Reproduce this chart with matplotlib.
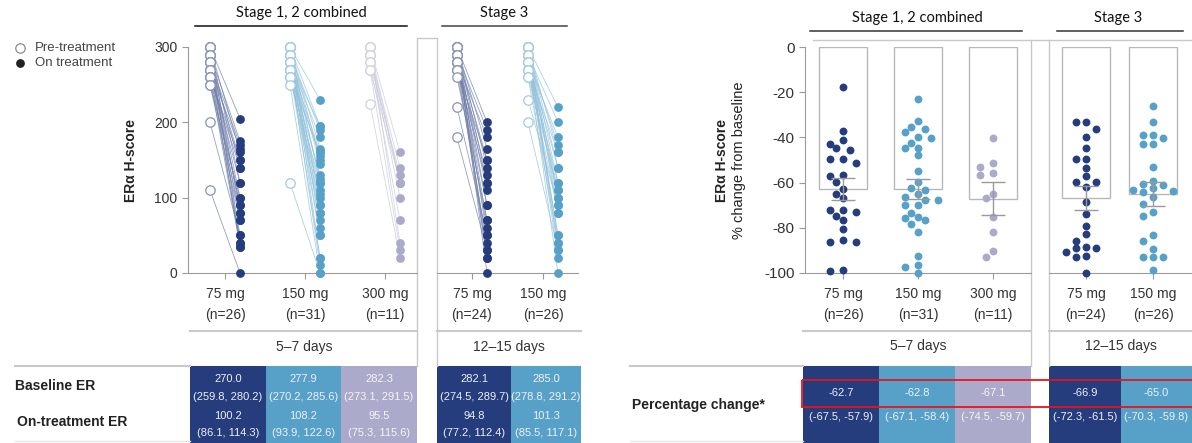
import numpy as np
import matplotlib
matplotlib.use("Agg")
import matplotlib.pyplot as plt
from matplotlib.patches import Rectangle
from matplotlib.colors import to_rgb

plt.rcParams['font.family'] = ['Liberation Sans', 'DejaVu Sans']
plt.rcParams['axes.unicode_minus'] = False

# ---------------- data ----------------
doses_s12 = ["75 mg", "150 mg", "300 mg"]
doses_s3 = ["75 mg", "150 mg"]
n_s12 = ["(n=26)", "(n=31)", "(n=11)"]
n_s3 = ["(n=24)", "(n=26)"]
period_s12 = "5–7 days"
period_s3 = "12–15 days"

# ER H-score, paired (pre, on) per patient
pre_s12_75 = [300, 300, 300, 300, 300, 290, 290, 290, 290, 280, 280, 280, 280, 280,
              270, 270, 270, 270, 260, 260, 260, 260, 250, 250, 200, 110]
on_s12_75 = [205, 120, 80, 160, 40, 175, 100, 50, 140, 170, 90, 35, 150, 70,
             165, 120, 40, 90, 150, 80, 35, 140, 100, 70, 50, 0]
pre_s12_150 = [300, 300, 300, 300, 300, 300, 300, 300, 290, 290, 290, 290, 290, 290,
               280, 280, 280, 280, 280, 280, 270, 270, 270, 270, 270,
               260, 260, 260, 260, 250, 120]
on_s12_150 = [230, 150, 90, 195, 60, 120, 20, 165, 190, 100, 50, 145, 80, 125,
              180, 110, 70, 160, 10, 195, 155, 90, 50, 130, 20,
              160, 105, 80, 120, 0, 0]
pre_s12_300 = [300, 300, 300, 290, 290, 290, 280, 280, 270, 270, 225]
on_s12_300 = [160, 120, 40, 140, 100, 120, 130, 70, 30, 120, 20]
pre_s3_75 = [300, 300, 300, 300, 300, 300, 300, 300, 290, 290, 290, 290, 290,
             280, 280, 280, 280, 280, 270, 270, 270, 260, 220, 180]
on_s3_75 = [200, 120, 50, 165, 20, 90, 140, 0, 190, 70, 110, 30, 150,
            180, 60, 130, 20, 90, 150, 40, 120, 70, 50, 30]
pre_s3_150 = [300, 300, 300, 300, 300, 300, 300, 300, 290, 290, 290, 290, 290, 290,
              280, 280, 280, 280, 280, 270, 270, 270, 260, 260, 230, 200]
on_s3_150 = [220, 100, 40, 160, 80, 140, 30, 120, 200, 90, 50, 170, 110, 20,
             180, 0, 140, 100, 50, 160, 80, 120, 110, 40, 90, 30]

# % change from baseline per patient
pct_s12_75 = [-17.8, -37.2, -41.3, -42.8, -44.5, -45.6, -49.7, -49.7, -51.2, -56.6, -57.1,
              -59.7, -62.7, -64.9, -66.8, -72.0, -72.0, -72.9, -74.9, -76.5, -80.7, -85.3,
              -86.1, -86.1, -98.8, -99.1]
pct_s12_150 = [-23.0, -32.6, -35.4, -36.3, -37.6, -39.8, -40.4, -42.6, -44.5, -44.5, -47.9,
               -55.0, -59.7, -62.2, -63.4, -65.0, -66.5, -67.7, -67.7, -70.0, -70.0, -73.3,
               -75.1, -75.5, -76.7, -78.4, -82.0, -92.5, -96.5, -97.5, -99.9]
pct_s12_300 = [-40.4, -51.5, -53.0, -55.6, -56.6, -65.0, -67.0, -75.1, -82.0, -90.1, -92.8]
pct_s3_75 = [-33.0, -33.0, -36.3, -39.7, -44.8, -49.7, -49.7, -53.4, -57.1, -59.6, -59.6,
             -61.8, -68.7, -74.0, -79.0, -82.7, -85.7, -88.6, -89.1, -89.1, -90.8, -92.6,
             -93.0, -99.9]
pct_s3_150 = [-26.1, -33.0, -38.9, -38.9, -40.4, -43.0, -43.0, -53.2, -59.1, -60.6, -61.0,
              -62.5, -63.3, -63.7, -64.3, -66.5, -69.5, -72.9, -74.8, -83.2, -85.7, -89.4,
              -92.8, -92.8, -92.8, -98.7]

# table values (order: S12 75, 150, 300, S3 75, 150)
baseline_mean = [270.0, 277.9, 282.3, 282.1, 285.0]
baseline_lo = [259.8, 270.2, 273.1, 274.5, 278.8]
baseline_hi = [280.2, 285.6, 291.5, 289.7, 291.2]
ontreat_mean = [100.2, 108.2, 95.5, 94.8, 101.3]
ontreat_lo = [86.1, 93.9, 75.3, 77.2, 85.5]
ontreat_hi = [114.3, 122.6, 115.6, 112.4, 117.1]
pct_mean = [-62.7, -62.8, -67.1, -66.9, -65.0]
pct_lo = [-67.5, -67.1, -74.5, -72.3, -70.3]
pct_hi = [-57.9, -58.4, -59.7, -61.5, -59.8]

# ---------------- style ----------------
C75, C150, C300 = "#253C7D", "#57A1C9", "#ABAACB"
cols_s12 = [C75, C150, C300]
cols_s3 = [C75, C150]
TXT = "#333333"
GRID = "#c9c9c9"
SPINE = "#9a9a9a"


def mix(c, f):
    r = np.array(to_rgb(c))
    return tuple(r * (1 - f) + f)


W, H = 1192, 443
fig = plt.figure(figsize=(W / 100, H / 100), dpi=100)


def px_axes(x0, y0, x1, y1):
    a = fig.add_axes([x0 / W, 1 - y1 / H, (x1 - x0) / W, (y1 - y0) / H])
    a.set_facecolor("none")
    return a


ov = px_axes(0, 0, W, H)
ov.set_xlim(0, W)
ov.set_ylim(H, 0)
ov.axis("off")


def style_axes(ax, left=True):
    for s in ["top", "right"]:
        ax.spines[s].set_visible(False)
    ax.spines["bottom"].set_color(SPINE)
    ax.spines["left"].set_color(SPINE)
    if not left:
        ax.spines["left"].set_visible(False)
        ax.tick_params(axis="y", left=False, labelleft=False)
    ax.tick_params(colors=SPINE, labelcolor=TXT, labelsize=10, length=4, width=0.8)
    ax.tick_params(axis="x", pad=6)


# ---------- left: paired plots ----------
def paired(ax, pres, ons, cols, unit_px, off_px=15):
    for i, (pre, on, c) in enumerate(zip(pres, ons, cols)):
        xp = i - off_px / unit_px
        xo = i + off_px / unit_px
        for a, b in zip(pre, on):
            ax.plot([xp, xo], [a, b], color=mix(c, 0.35), lw=0.6, alpha=0.75, zorder=1)
        ax.scatter(np.full(len(pre), xp), pre, s=46, facecolor="white",
                   edgecolor=mix(c, 0.45), lw=0.9, zorder=3, clip_on=False)
        ax.scatter(np.full(len(on), xo), on, s=40, color=c, lw=0, zorder=4, clip_on=False)


ax1 = px_axes(188, 47, 417, 273)
paired(ax1, [pre_s12_75, pre_s12_150, pre_s12_300], [on_s12_75, on_s12_150, on_s12_300],
       cols_s12, 80)
ax1.set_xlim((188 - 225) / 80, (417 - 225) / 80)
ax1.set_ylim(0, 300)
ax1.set_yticks([0, 100, 200, 300])
ax1.set_xticks(range(3))
ax1.set_xticklabels(doses_s12)
style_axes(ax1)
ax1.set_ylabel("ERα H-score", fontsize=10, fontweight="bold", color="#222", labelpad=12)

ax2 = px_axes(437, 47, 578, 273)
paired(ax2, [pre_s3_75, pre_s3_150], [on_s3_75, on_s3_150], cols_s3, 71)
ax2.set_xlim((437 - 472) / 71, (578 - 472) / 71)
ax2.set_ylim(0, 300)
ax2.set_xticks(range(2))
ax2.set_xticklabels(doses_s3)
style_axes(ax2, left=False)


# ---------- right: bar + swarm ----------
def swarm_offsets(vals, ypx, step, kmax, dmin=7.6):
    vals = np.asarray(vals, float)
    order = np.argsort(-vals, kind="stable")
    placed = []
    offs = np.zeros(len(vals))
    cands = [0.0] + [s * k * step for k in range(1, kmax + 1) for s in (-1, 1)]
    for i in order:
        y = vals[i] * ypx
        best, bestd = 0.0, -1
        for c in cands:
            d = min([np.hypot(c - px, y - py) for px, py in placed] + [1e9])
            if d >= dmin:
                best = c
                break
            if d > bestd:
                best, bestd = c, d
        offs[i] = best
        placed.append((best, y))
    return offs


def bars_swarm(ax, groups, means, los, his, cols, unit_px, step, kmax, ypx=2.26):
    bw = 48 / unit_px
    x = np.arange(len(groups))
    ax.bar(x, means, width=bw, facecolor="white", edgecolor="#b8b8b8", lw=1.0, zorder=1)
    for i, (g, c) in enumerate(zip(groups, cols)):
        off = swarm_offsets(g, ypx, step, kmax) / unit_px
        ax.scatter(i + off, g, s=32, color=c, lw=0, zorder=3, clip_on=False)
    m = np.array(means)
    ax.errorbar(x, m, yerr=[m - np.array(los), np.array(his) - m], fmt="none",
                ecolor="#9a9a9a", elinewidth=1.0, capsize=8.3, capthick=1.0, zorder=4)


ax3 = px_axes(805, 47, 1031, 273)
bars_swarm(ax3, [pct_s12_75, pct_s12_150, pct_s12_300], pct_mean[:3], pct_lo[:3], pct_hi[:3],
           cols_s12, 75, step=6.7, kmax=3)
ax3.set_xlim((805 - 843) / 75, (1031 - 843) / 75)
ax3.set_ylim(-100, 0)
ax3.set_yticks([0, -20, -40, -60, -80, -100])
ax3.set_xticks(range(3))
ax3.set_xticklabels(doses_s12)
style_axes(ax3)
ax3.tick_params(axis="y", labelsize=11)

ax4 = px_axes(1049, 47, 1192, 273)
bars_swarm(ax4, [pct_s3_75, pct_s3_150], pct_mean[3:], pct_lo[3:], pct_hi[3:], cols_s3, 67,
           step=10, kmax=2)
ax4.set_xlim((1049 - 1086) / 67, (1192 - 1086) / 67)
ax4.set_ylim(-100, 0)
ax4.set_xticks(range(2))
ax4.set_xticklabels(doses_s3)
style_axes(ax4, left=False)

ov.text(722, 160, "ERα H-score", rotation=90, ha="center", va="center",
        fontsize=10, fontweight="bold", color="#222")
ov.text(739, 160, "% change from baseline", rotation=90, ha="center", va="center",
        fontsize=10.5, color="#222")

# n labels
for ax, labs in [(ax1, n_s12), (ax2, n_s3), (ax3, n_s12), (ax4, n_s3)]:
    for i, t in enumerate(labs):
        ax.text(i, -0.186, t, transform=ax.get_xaxis_transform(), ha="center",
                va="center", fontsize=10, color=TXT)

# ---------- decorations / headers ----------
HF = ["Lato", "DejaVu Sans"]
ov.text(301, 13, "Stage 1, 2 combined", ha="center", va="center", fontsize=10.5,
        family=HF, color="#111")
ov.plot([195, 407], [26, 26], color="#111", lw=1.1)
ov.text(504, 13, "Stage 3", ha="center", va="center", fontsize=10.5, family=HF, color="#111")
ov.plot([442, 567], [26, 26], color="#444", lw=1.1)
ov.text(917, 18, "Stage 1, 2 combined", ha="center", va="center", fontsize=10.5,
        family=HF, color="#111")
ov.plot([810, 1022], [31, 31], color="#333", lw=1.1)
ov.text(1118, 18, "Stage 3", ha="center", va="center", fontsize=10.5, family=HF, color="#111")
ov.plot([1057, 1183], [31, 31], color="#333", lw=1.1)

# legend
ov.scatter([20], [48], s=46, facecolor="white", edgecolor="#8a8a8a", lw=0.9)
ov.text(35, 48, "Pre-treatment", ha="left", va="center", fontsize=9.5, color="#444")
ov.scatter([20], [63], s=40, color="#222", lw=0)
ov.text(35, 63, "On treatment", ha="left", va="center", fontsize=9.5, color="#444")

# frames / separators
ov.plot([417, 417, 437, 437], [366, 38, 38, 366], color=GRID, lw=1.0)
ov.plot([813, 1192], [40, 40], color=GRID, lw=1.0)
ov.plot([1031, 1031], [40, 366], color=GRID, lw=1.0)
ov.plot([1049, 1049], [40, 366], color=GRID, lw=1.0)

# period rows
for x0, x1 in [(190, 417), (437, 581), (803, 1031), (1049, 1192)]:
    ov.plot([x0, x1], [331, 331], color=GRID, lw=1.5)
ov.text(304, 347, period_s12, ha="center", va="center", fontsize=10, color=TXT)
ov.text(509, 347, period_s3, ha="center", va="center", fontsize=10, color=TXT)
ov.text(918, 346, period_s12, ha="center", va="center", fontsize=10, color=TXT)
ov.text(1121, 346, period_s3, ha="center", va="center", fontsize=10, color=TXT)

ov.plot([15, 190], [366, 366], color=GRID, lw=1.5)
ov.plot([630, 803], [366, 366], color=GRID, lw=1.5)
ov.plot([15, 190], [441, 441], color="#e6e6e6", lw=1.0)
ov.plot([630, 803], [441, 441], color="#e6e6e6", lw=1.0)

# table cells
cell_cols = cols_s12 + cols_s3
left_edges = [(190, 266), (266, 341), (341, 417), (437, 511), (511, 581)]
right_edges = [(803, 879), (879, 955), (955, 1031), (1049, 1121), (1121, 1192)]
for k, c in enumerate(cell_cols):
    tc = "#eef0f6" if c != C300 else "#f4f4f8"
    x0, x1 = left_edges[k]
    ov.add_patch(Rectangle((x0, 366), x1 - x0, H - 366, facecolor=c, lw=0))
    xc = (x0 + x1) / 2
    ov.text(xc, 379, f"{baseline_mean[k]:.1f}", ha="center", va="center", fontsize=8, color=tc)
    ov.text(xc, 397, f"({baseline_lo[k]:.1f}, {baseline_hi[k]:.1f})", ha="center",
            va="center", fontsize=8, color=tc)
    ov.text(xc, 416, f"{ontreat_mean[k]:.1f}", ha="center", va="center", fontsize=8, color=tc)
    ov.text(xc, 433, f"({ontreat_lo[k]:.1f}, {ontreat_hi[k]:.1f})", ha="center",
            va="center", fontsize=8, color=tc)
    x0, x1 = right_edges[k]
    ov.add_patch(Rectangle((x0, 366), x1 - x0, H - 366, facecolor=c, lw=0))
    xc = (x0 + x1) / 2
    ov.text(xc, 393, f"{pct_mean[k]:.1f}", ha="center", va="center", fontsize=8, color=tc)
    ov.text(xc, 417, f"({pct_lo[k]:.1f}, {pct_hi[k]:.1f})", ha="center", va="center",
            fontsize=8, color=tc)

ov.text(15, 386, "Baseline ER", ha="left", va="center", fontsize=10, fontweight="bold",
        color="#222")
ov.text(17, 422, "On-treatment ER", ha="left", va="center", fontsize=10, fontweight="bold",
        color="#222")
ov.text(632, 405, "Percentage change*", ha="left", va="center", fontsize=10,
        fontweight="bold", color="#222")

ov.add_patch(Rectangle((802, 380), 400, 27, facecolor="none", edgecolor="#e8141b", lw=1.3,
                       zorder=10))

fig.savefig("out.png", dpi=100)
